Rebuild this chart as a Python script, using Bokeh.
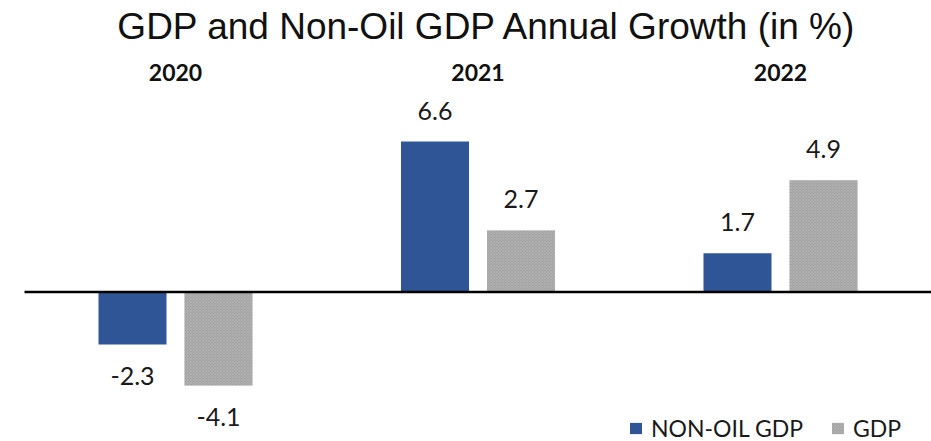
from bokeh.plotting import figure
from bokeh.models import Range1d, ColumnDataSource, Legend, LegendItem, Label
from bokeh.core.properties import value
from bokeh.embed import file_html
from bokeh.resources import INLINE

# ---- data ----
years = ["2020", "2021", "2022"]
non_oil_gdp = [-2.3, 6.6, 1.7]
gdp = [-4.1, 2.7, 4.9]
title_text = "GDP and Non-Oil GDP Annual Growth (in %)"
series_names = ["NON-OIL GDP", "GDP"]

BLUE = "#2F5597"
GREY = "#A6A6A6"

W, H = 931, 441
px_per_group = 302.5
first_center_px = 175
zero_px = 291.5
px_per_unit = 22.8

x_start = -first_center_px / px_per_group
x_end = (W - first_center_px) / px_per_group
y_end = zero_px / px_per_unit
y_start = -(H - zero_px) / px_per_unit

offset = 43 / px_per_group
bw = 68 / px_per_group

p = figure(width=W, height=H, output_backend="svg", toolbar_location=None,
           x_range=Range1d(x_start, x_end), y_range=Range1d(y_start, y_end),
           min_border=0, min_border_left=0, min_border_right=0,
           min_border_top=0, min_border_bottom=0)
p.axis.visible = False
p.grid.visible = False
p.outline_line_color = None
p.background_fill_color = "white"
p.border_fill_color = "white"

idx = list(range(len(years)))
src = ColumnDataSource(dict(
    x1=[i - offset for i in idx],
    x2=[i + offset for i in idx],
    non_oil=non_oil_gdp,
    gdp=gdp,
    lab1=[f"{v:.1f}" for v in non_oil_gdp],
    lab2=[f"{v:.1f}" for v in gdp],
))

r1 = p.vbar(x="x1", top="non_oil", bottom=0, width=bw, source=src,
            fill_color=BLUE, line_color=None)
r2 = p.vbar(x="x2", top="gdp", bottom=0, width=bw, source=src,
            fill_color=GREY, line_color=None,
            hatch_pattern="x", hatch_color="#B4B4B4", hatch_scale=3, hatch_weight=0.6)

# zero line
zero_x0 = x_start + 24 / px_per_group
p.segment(x0=[zero_x0], y0=[0], x1=[x_end], y1=[0], line_color="black", line_width=2.6)

# value labels
def add_labels(xcol, vals, labcol):
    pos = ColumnDataSource(dict(x=[src.data[xcol][i] for i, v in enumerate(vals) if v >= 0],
                                y=[v for v in vals if v >= 0],
                                t=[src.data[labcol][i] for i, v in enumerate(vals) if v >= 0]))
    neg = ColumnDataSource(dict(x=[src.data[xcol][i] for i, v in enumerate(vals) if v < 0],
                                y=[v for v in vals if v < 0],
                                t=[src.data[labcol][i] for i, v in enumerate(vals) if v < 0]))
    for s, yo in ((pos, -31), (neg, 32)):
        p.text(x="x", y="y", text="t", source=s, text_align="center",
               text_baseline="alphabetic", y_offset=yo,
               text_font=value("Lato"), text_font_size="25px", text_color="#1a1a1a")

add_labels("x1", non_oil_gdp, "lab1")
add_labels("x2", gdp, "lab2")

# year labels
p.text(x=idx, y=[y_end] * len(years), text=years, text_align="center",
       text_baseline="alphabetic", y_offset=72,
       text_font=value("Lato"), text_font_style="bold", text_font_size="23px",
       text_color="#111111")

# title
p.add_layout(Label(x=487, y=H - 26, x_units="screen", y_units="screen",
                   text=title_text, text_align="center", text_baseline="alphabetic",
                   text_font="Liberation Sans", text_font_size="37px", text_color="#111111"))

legend = Legend(items=[LegendItem(label=series_names[0], renderers=[r1]),
                       LegendItem(label=series_names[1], renderers=[r2])],
                orientation="horizontal", location=(628, -1),
                border_line_color=None, background_fill_alpha=0,
                padding=0, margin=0, spacing=27, label_standoff=8,
                glyph_width=15, glyph_height=14, label_height=14,
                label_text_font="Lato", label_text_font_size="23px",
                label_text_color="#1a1a1a")
p.add_layout(legend, "center")

open("out.html", "w").write(file_html(p, INLINE))
